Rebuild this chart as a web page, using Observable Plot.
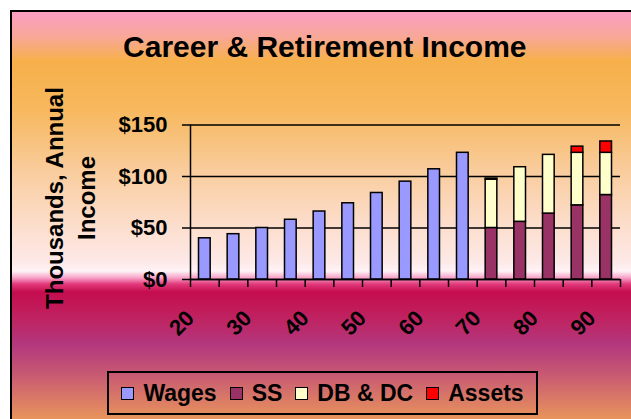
<!DOCTYPE html>
<html>
<head>
<meta charset="utf-8">
<script src="https://cdn.jsdelivr.net/npm/d3@7"></script>
<script src="https://cdn.jsdelivr.net/npm/@observablehq/plot@0.6"></script>
<style>
  html, body { margin: 0; padding: 0; background: #fff; overflow: hidden; }
  #wrap { position: relative; width: 631px; height: 419px; overflow: hidden;
          font-family: "Liberation Sans", Arial, sans-serif; font-weight: bold; color: #000; }
  #bg { position: absolute; left: 10px; top: 10px; width: 660px; height: 440px;
        border-left: 2px solid #000; border-top: 2px solid #000;
        background: linear-gradient(to bottom,
          #fa9ec0 2px, #f8a79a 24px, #f6b04a 49px, #f7b85e 98px, #f9cc9c 158px,
          #fcdcc8 208px, #fde9e8 250px, #fff3f6 259px, #f7a0c6 266px, #e23a7c 272px,
          #c50d4e 280px, #bf2462 308px, #b2387e 333px, #c85a72 363px, #e8945c 407px); }
  #title { position: absolute; left: 0; width: 649.6px; top: 31.5px; text-align: center;
           font-size: 30px; line-height: 30px; white-space: nowrap; }
  #ylabel { position: absolute; width: 260px; height: 64px; left: -59px; top: 166px;
            transform: rotate(-90deg); transform-origin: 130px 32px; text-align: center;
            font-size: 24px; line-height: 32px; white-space: nowrap; }
  #plot { position: absolute; left: 0; top: 0; }
  #legend { position: absolute; left: 107px; top: 371px; width: 431px; height: 44px;
            box-sizing: border-box; border: 2px solid #000; display: flex;
            align-items: center; justify-content: center; font-size: 23px; line-height: 26px; }
  .item { display: flex; align-items: center; margin-right: 13px; }
  .item:last-child { margin-right: 0; }
  .sw { display: inline-block; width: 11px; height: 11px; border: 1.5px solid #000; margin-right: 9px; }
</style>
</head>
<body>
<div id="wrap">
  <div id="bg"></div>
  <div id="title"></div>
  <div id="ylabel"></div>
  <div id="plot"></div>
  <div id="legend"></div>
</div>
<script>
// ---- data ----
const titleText = "Career & Retirement Income";
const yLabelLines = ["Thousands, Annual", "Income"];
const ages = [20, 25, 30, 35, 40, 45, 50, 55, 60, 65, 70, 75, 80, 85, 90];
const wages  = [40, 44, 50, 58, 66, 74, 84, 95, 107, 123, 0, 0, 0, 0, 0];
const ss     = [0, 0, 0, 0, 0, 0, 0, 0, 0, 0, 50, 56, 64, 72, 82];
const dbdc   = [0, 0, 0, 0, 0, 0, 0, 0, 0, 0, 47, 53, 57, 51, 41];
const assets = [0, 0, 0, 0, 0, 0, 0, 0, 0, 0, 1, 0, 0, 6, 11];
const seriesNames = ["Wages", "SS", "DB & DC", "Assets"];
const seriesColors = ["#9999ff", "#993366", "#ffffcc", "#ff0000"];
const yTicks = [0, 50, 100, 150];
const xTickLabels = [20, 30, 40, 50, 60, 70, 80, 90];
const ageStep = 5;

// ---- build table ----
const rows = [];
[wages, ss, dbdc, assets].forEach((arr, si) => {
  arr.forEach((v, i) => {
    if (v > 0) rows.push({age: ages[i], series: seriesNames[si], value: v});
  });
});
const xBoundaries = [...ages, ages[ages.length - 1] + ageStep];

document.getElementById("title").textContent = titleText;
document.getElementById("ylabel").innerHTML = yLabelLines.map(s => `<div>${s}</div>`).join("");

const font = '"Liberation Sans", Arial, sans-serif';
const chart = Plot.plot({
  width: 631,
  height: 419,
  marginLeft: 190,
  marginRight: 11,
  marginTop: 124.5,
  marginBottom: 140,
  style: {background: "transparent", fontFamily: font, color: "#000", overflow: "visible"},
  x: {type: "linear", domain: [ages[0], ages[ages.length - 1] + ageStep], axis: null},
  y: {domain: [0, 150], axis: null},
  color: {domain: seriesNames, range: seriesColors},
  marks: [
    Plot.gridY(yTicks, {stroke: "#000", strokeOpacity: 1, strokeWidth: 1.5}),
    Plot.axisY(yTicks, {anchor: "left", tickSize: 8, tickPadding: 15, tickFormat: d => "$" + d,
      fontSize: 22, fontWeight: "bold", stroke: "#000", strokeWidth: 1.5, label: null}),
    Plot.rectY(rows, {x: "age", interval: ageStep, y: "value", fill: "series",
      stroke: "#000", strokeWidth: 1.5, insetLeft: 8.5, insetRight: 8.5}),
    Plot.ruleY([0], {stroke: "#000", strokeWidth: 1.5}),
    Plot.ruleX([ages[0]], {stroke: "#000", strokeWidth: 1.5}),
    Plot.axisX(xBoundaries, {anchor: "bottom", tickSize: 8, tickFormat: () => "",
      stroke: "#000", strokeWidth: 1.5, label: null}),
    Plot.text(xTickLabels, {x: d => d, frameAnchor: "bottom", dy: 35, rotate: -45,
      textAnchor: "end", lineAnchor: "middle", fontSize: 22, fontWeight: "bold", fill: "#000"})
  ]
});
document.getElementById("plot").appendChild(chart);

// ---- legend ----
const legend = document.getElementById("legend");
seriesNames.forEach((name, i) => {
  const item = document.createElement("div");
  item.className = "item";
  const sw = document.createElement("span");
  sw.className = "sw";
  sw.style.background = seriesColors[i];
  const t = document.createElement("span");
  t.textContent = name;
  item.appendChild(sw);
  item.appendChild(t);
  legend.appendChild(item);
});
</script>
</body>
</html>
